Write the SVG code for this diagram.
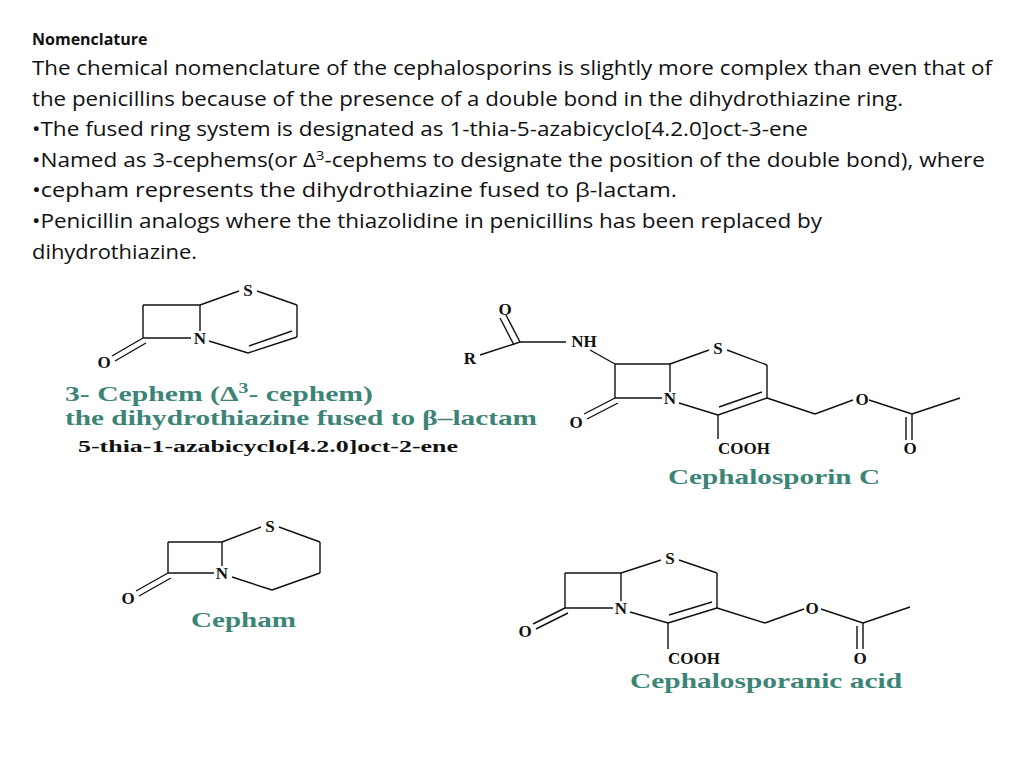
<svg xmlns="http://www.w3.org/2000/svg" width="1024" height="768" viewBox="0 0 1024 768">
<style>
.b{font-family:"Open Sans","Noto Sans",sans-serif;font-size:20px;fill:#111}
.a{font-family:"Liberation Serif",serif;font-weight:700;font-size:17px;fill:#111;text-anchor:middle}
.t{font-family:"Liberation Serif",serif;font-weight:700;font-size:21px;fill:#3d8478}
line{stroke:#111;stroke-width:1.4}
</style>
<rect width="1024" height="768" fill="#fff"/>
<text x="32" y="45" font-family="Open Sans,sans-serif" font-weight="bold" font-size="16" fill="#111">Nomenclature</text>
<text class="b" x="32" y="75" textLength="960" lengthAdjust="spacingAndGlyphs">The chemical nomenclature of the cephalosporins is slightly more complex than even that of</text>
<text class="b" x="32" y="106" textLength="871" lengthAdjust="spacingAndGlyphs">the penicillins because of the presence of a double bond in the dihydrothiazine ring.</text>
<text class="b" x="32" y="136" textLength="776" lengthAdjust="spacingAndGlyphs">•The fused ring system is designated as 1-thia-5-azabicyclo[4.2.0]oct-3-ene</text>
<text class="b" x="32" y="167" textLength="953" lengthAdjust="spacingAndGlyphs">•Named as 3-cephems(or Δ<tspan font-size="13" dy="-7">3</tspan><tspan dy="7">-cephems to designate the position of the double bond), where</tspan></text>
<text class="b" x="32" y="197" textLength="645" lengthAdjust="spacingAndGlyphs">•cepham represents the dihydrothiazine fused to β-lactam.</text>
<text class="b" x="32" y="228" textLength="790" lengthAdjust="spacingAndGlyphs">•Penicillin analogs where the thiazolidine in penicillins has been replaced by</text>
<text class="b" x="32" y="259" textLength="165" lengthAdjust="spacingAndGlyphs">dihydrothiazine.</text>

<g id="cephem">
<line x1="143" y1="305" x2="200" y2="305"/><line x1="143" y1="305" x2="143" y2="338"/><line x1="200" y1="305" x2="200" y2="331"/><line x1="143" y1="338" x2="191" y2="338"/>
<line x1="200" y1="305" x2="239" y2="291"/><line x1="257" y1="291" x2="297" y2="305"/><line x1="297" y1="305" x2="297" y2="337"/>
<line x1="297" y1="337" x2="248" y2="353"/><line x1="292" y1="331" x2="249" y2="346"/><line x1="209" y1="341" x2="248" y2="353"/>
<line x1="143" y1="338" x2="112" y2="356"/><line x1="146" y1="343" x2="115" y2="361"/>
<text class="a" x="248" y="296">S</text><text class="a" x="200" y="344">N</text><text class="a" x="104" y="368">O</text>
<text class="t" x="65" y="401" textLength="308" lengthAdjust="spacingAndGlyphs">3- Cephem (Δ<tspan font-size="14" dy="-8">3</tspan><tspan dy="8">- cephem)</tspan></text>
<text class="t" x="65" y="425" textLength="472" lengthAdjust="spacingAndGlyphs">the dihydrothiazine fused to β–lactam</text>
<text x="78" y="452" font-family="Liberation Serif,serif" font-weight="700" font-size="16" fill="#111" textLength="380" lengthAdjust="spacingAndGlyphs">5-thia-1-azabicyclo[4.2.0]oct-2-ene</text>
</g>

<g id="cephalosporin-c">
<line x1="520" y1="342" x2="506" y2="315"/><line x1="514" y1="345" x2="500" y2="318"/>
<line x1="520" y1="342" x2="566" y2="342"/><line x1="480" y1="355" x2="520" y2="342"/>
<line x1="590" y1="350" x2="615" y2="364"/>
<line x1="615" y1="364" x2="670" y2="364"/><line x1="615" y1="364" x2="615" y2="398"/><line x1="670" y1="364" x2="670" y2="392"/><line x1="615" y1="398" x2="662" y2="398"/>
<line x1="615" y1="398" x2="584" y2="414"/><line x1="618" y1="403" x2="587" y2="419"/>
<line x1="670" y1="364" x2="709" y2="350"/><line x1="727" y1="350" x2="767" y2="365"/><line x1="767" y1="365" x2="767" y2="398"/>
<line x1="767" y1="398" x2="718" y2="415"/><line x1="762" y1="392" x2="719" y2="407"/><line x1="679" y1="403" x2="718" y2="415"/>
<line x1="718" y1="415" x2="718" y2="439"/>
<line x1="767" y1="398" x2="815" y2="414"/><line x1="815" y1="414" x2="853" y2="400"/><line x1="869" y1="400" x2="912" y2="414"/><line x1="912" y1="414" x2="960" y2="398"/>
<line x1="912" y1="414" x2="912" y2="440"/><line x1="906" y1="417" x2="906" y2="440"/>
<text class="a" x="505" y="315">O</text><text class="a" x="584" y="347">NH</text><text class="a" x="470" y="364">R</text>
<text class="a" x="718" y="354">S</text><text class="a" x="670" y="404">N</text><text class="a" x="576" y="428">O</text>
<text class="a" x="862" y="405">O</text><text class="a" x="744" y="454">COOH</text><text class="a" x="910" y="454">O</text>
<text class="t" x="668" y="484" textLength="212" lengthAdjust="spacingAndGlyphs">Cephalosporin C</text>
</g>

<g id="cepham">
<line x1="168" y1="542" x2="222" y2="542"/><line x1="168" y1="542" x2="168" y2="573"/><line x1="222" y1="542" x2="222" y2="566"/><line x1="168" y1="573" x2="214" y2="573"/>
<line x1="222" y1="542" x2="261" y2="527"/><line x1="279" y1="527" x2="320" y2="542"/><line x1="320" y1="542" x2="320" y2="573"/><line x1="320" y1="573" x2="272" y2="590"/><line x1="232" y1="577" x2="272" y2="590"/>
<line x1="168" y1="573" x2="136" y2="591"/><line x1="171" y1="578" x2="139" y2="596"/>
<text class="a" x="270" y="532">S</text><text class="a" x="222" y="579">N</text><text class="a" x="128" y="604">O</text>
<text class="t" x="191" y="627" textLength="105" lengthAdjust="spacingAndGlyphs">Cepham</text>
</g>

<g id="cephalosporanic-acid">
<line x1="565" y1="573" x2="621" y2="573"/><line x1="565" y1="573" x2="565" y2="608"/><line x1="621" y1="573" x2="621" y2="601"/><line x1="565" y1="608" x2="613" y2="608"/>
<line x1="565" y1="608" x2="533" y2="624"/><line x1="568" y1="613" x2="536" y2="629"/>
<line x1="621" y1="573" x2="661" y2="560"/><line x1="679" y1="560" x2="717" y2="573"/><line x1="717" y1="573" x2="717" y2="608"/>
<line x1="717" y1="608" x2="668" y2="623"/><line x1="712" y1="602" x2="669" y2="615"/><line x1="630" y1="612" x2="668" y2="623"/>
<line x1="668" y1="623" x2="668" y2="649"/>
<line x1="717" y1="608" x2="765" y2="623"/><line x1="765" y1="623" x2="804" y2="609"/><line x1="821" y1="609" x2="863" y2="623"/><line x1="863" y1="623" x2="910" y2="607"/>
<line x1="863" y1="623" x2="863" y2="649"/><line x1="857" y1="626" x2="857" y2="649"/>
<text class="a" x="670" y="564">S</text><text class="a" x="621" y="614">N</text><text class="a" x="525" y="637">O</text>
<text class="a" x="812" y="614">O</text><text class="a" x="694" y="664">COOH</text><text class="a" x="860" y="664">O</text>
<text class="t" x="630" y="688" textLength="272" lengthAdjust="spacingAndGlyphs">Cephalosporanic acid</text>
</g>
</svg>
